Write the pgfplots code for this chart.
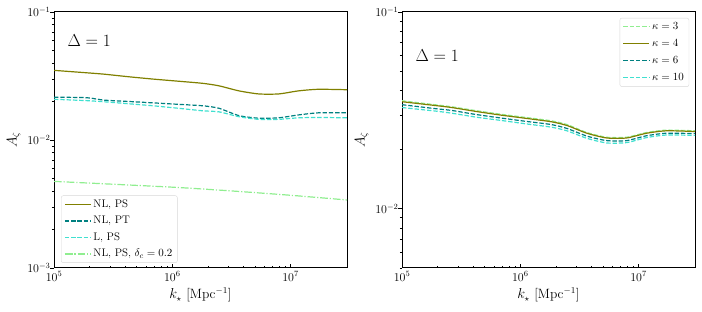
\documentclass[border=0pt]{standalone}
\usepackage{pgfplots}
\pgfplotsset{compat=1.18}
\definecolor{olivec}{RGB}{128,128,0}
\definecolor{tealc}{RGB}{0,128,128}
\definecolor{turq}{RGB}{64,224,208}
\definecolor{lgreen}{RGB}{144,238,144}
\definecolor{legframe}{RGB}{215,215,215}

\pgfplotstableread{
x       nlps    nlpt    lps
1e5     0.0350  0.0216  0.0208
1.89e5  0.0335  0.0214  0.0203
2.63e5  0.0327  0.0205  0.0199
4.27e5  0.0312  0.0200  0.0192
6.92e5  0.0299  0.0195  0.0185
1.122e6 0.0288  0.0190  0.0177
1.82e6  0.0277  0.0185  0.0169
2.48e6  0.0265  0.0177  0.0166
3.66e6  0.0242  0.0155  0.0152
5.38e6  0.0229  0.0148  0.0145
7.93e6  0.0229  0.0149  0.0145
1.167e7 0.0242  0.0157  0.0149
1.718e7 0.0249  0.0163  0.0150
3e7     0.0247  0.0163  0.0149
}\lefttab

\pgfplotstableread{
x       dc
1e5     0.00475
1e6     0.00428
3.16e6  0.00400
1e7     0.00370
3e7     0.00340
}\dctab

\pgfplotstableread{
x       k3      k4      k6      k10
1e5     0.0354  0.0350  0.0338  0.0327
1.89e5  0.0338  0.0335  0.0323  0.0314
2.63e5  0.0330  0.0327  0.0316  0.0306
4.27e5  0.0315  0.0312  0.0301  0.0292
6.92e5  0.0302  0.0299  0.0289  0.0281
1.122e6 0.0291  0.0288  0.0278  0.0270
1.82e6  0.0280  0.0277  0.0268  0.0260
2.48e6  0.0268  0.0265  0.0256  0.0249
3.66e6  0.0244  0.0242  0.0234  0.0228
5.38e6  0.0231  0.0229  0.0222  0.0216
7.93e6  0.0231  0.0229  0.0222  0.0217
1.167e7 0.0244  0.0242  0.0235  0.0230
1.718e7 0.0251  0.0249  0.0242  0.0237
3e7     0.0249  0.0247  0.0241  0.0236
}\righttab

\pgfplotsset{
  legend image code/.code={\draw[line width=1.2pt,#1] (0pt,0pt) -- (26pt,0pt);},
  every major y tick/.append style={xshift=-4pt},
  every minor y tick/.append style={xshift=-2.2pt},
}
\tikzset{
  dashedA/.style={dash pattern=on 4.4pt off 1.9pt},
  dashdotA/.style={dash pattern=on 7.7pt off 1.9pt on 1.2pt off 1.9pt},
}

\begin{document}
\begin{tikzpicture}[x=1pt,y=1pt]
\useasboundingbox (0,0) rectangle (702,312);

\begin{axis}[
  xmode=log, ymode=log,
  scale only axis, width=293pt, height=256pt,
  xmin=1e5, xmax=3e7,
  axis line style={line width=1pt},
  tick style={black, line width=0.6pt},
  major tick length=4pt, minor tick length=2.2pt,
  tick pos=left, tick align=inside,
  ticklabel style={font=\fontsize{12}{14}\selectfont},
  xlabel={$k_\star$ [Mpc$^{-1}$]},
  ylabel={$A_\zeta$},
  label style={font=\fontsize{13.5}{16}\selectfont},
  legend cell align=left,
  legend style={font=\fontsize{11}{13}\selectfont, draw=legframe,
    rounded corners=2pt, fill=white,
    row sep=3pt, inner xsep=3pt, inner ysep=2pt,
    nodes={inner ysep=1.5pt, text height=8pt, text depth=2.5pt}},
  every axis plot/.append style={line width=1.2pt},
  at={(54pt,44pt)}, anchor=south west,
  ymin=1e-3, ymax=1e-1,
  legend style={at={(0.024,0.02)}, anchor=south west},
]
\addplot[draw=olivec, smooth, tension=0.4] table[x=x, y=nlps] {\lefttab};
\addlegendentry{NL, PS}
\addplot[draw=tealc, dashedA, smooth, tension=0.4] table[x=x, y=nlpt] {\lefttab};
\addlegendentry{NL, PT}
\addplot[draw=turq, dashedA, smooth, tension=0.4] table[x=x, y=lps] {\lefttab};
\addlegendentry{L, PS}
\addplot[draw=lgreen, dashdotA, smooth, tension=0.4] table[x=x, y=dc] {\dctab};
\addlegendentry{NL, PS, $\delta_c=0.2$}
\node[font=\fontsize{16}{18}\selectfont] at (rel axis cs:0.12,0.89) {$\Delta=1$};
\end{axis}

\begin{axis}[
  xmode=log, ymode=log,
  scale only axis, width=293pt, height=256pt,
  xmin=1e5, xmax=3e7,
  axis line style={line width=1pt},
  tick style={black, line width=0.6pt},
  major tick length=4pt, minor tick length=2.2pt,
  tick pos=left, tick align=inside,
  ticklabel style={font=\fontsize{12}{14}\selectfont},
  xlabel={$k_\star$ [Mpc$^{-1}$]},
  ylabel={$A_\zeta$},
  label style={font=\fontsize{13.5}{16}\selectfont},
  legend cell align=left,
  legend style={font=\fontsize{11}{13}\selectfont, draw=legframe,
    rounded corners=2pt, fill=white,
    row sep=3.5pt, inner xsep=3pt, inner ysep=2pt,
    nodes={inner ysep=1.5pt, text height=8pt, text depth=2.5pt}},
  every axis plot/.append style={line width=1.2pt},
  at={(402pt,44pt)}, anchor=south west,
  ymin=5e-3, ymax=1e-1,
  legend style={at={(0.98,0.977)}, anchor=north east},
]
\addplot[draw=lgreen, dashedA, smooth, tension=0.4] table[x=x, y=k3] {\righttab};
\addlegendentry{$\kappa=3$}
\addplot[draw=olivec, smooth, tension=0.4] table[x=x, y=k4] {\righttab};
\addlegendentry{$\kappa=4$}
\addplot[draw=tealc, dashedA, smooth, tension=0.4] table[x=x, y=k6] {\righttab};
\addlegendentry{$\kappa=6$}
\addplot[draw=turq, dashedA, smooth, tension=0.4] table[x=x, y=k10] {\righttab};
\addlegendentry{$\kappa=10$}
\node[font=\fontsize{16}{18}\selectfont] at (rel axis cs:0.12,0.83) {$\Delta=1$};
\end{axis}
\end{tikzpicture}
\end{document}
